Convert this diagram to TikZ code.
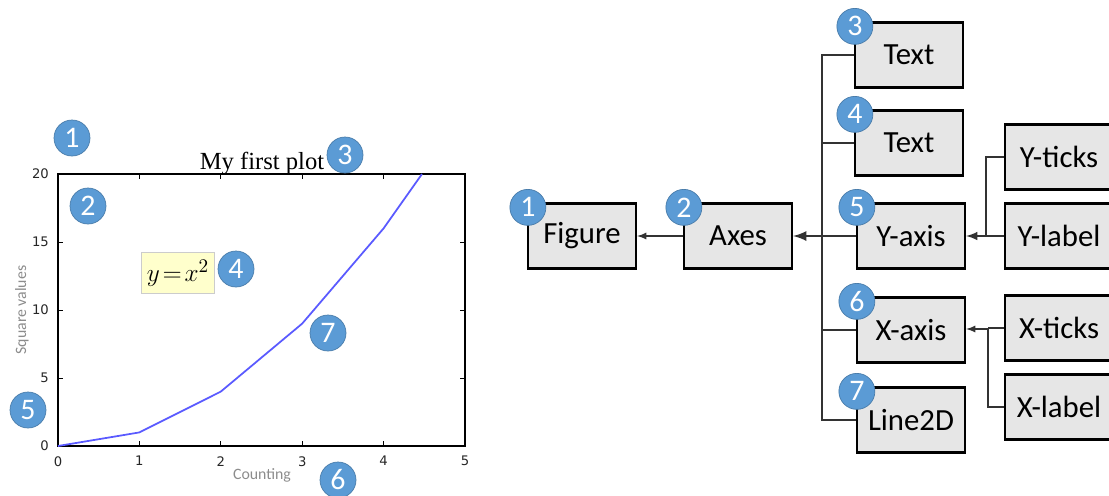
\documentclass[tikz,border=0pt]{standalone}
\usepackage{fontspec}
\newfontfamily\carlito{Carlito}
\newfontfamily\verafont{DejaVu Sans}
\newfontfamily\timesfont{Liberation Serif}
\definecolor{badgeblue}{HTML}{5B9BD5}
\definecolor{boxgray}{HTML}{E6E6E6}
\definecolor{plotblue}{HTML}{5A5AFF}
\definecolor{notebg}{HTML}{FFFFCC}

\tikzset{
  obj/.style={draw, line width=1.3pt, fill=boxgray, minimum width=2.16cm,
    minimum height=1.3cm, inner sep=0pt, font=\carlito\fontsize{17.5}{19}\selectfont},
  badge/.style={circle, fill=badgeblue, draw=badgeblue!80!black, line width=0.4pt,
    text=white, minimum size=0.72cm, inner sep=0pt, font=\carlito\fontsize{17}{18}\selectfont},
  link/.style={line width=0.8pt, draw=black!80},
  ticklab/.style={font=\verafont\fontsize{7.5}{8}\selectfont, text=black!85},
  axlab/.style={font=\carlito\fontsize{9}{10}\selectfont, text=black!45},
}

\begin{document}
\begin{tikzpicture}[x=0.02cm,y=-0.02cm]
\useasboundingbox (0,0) rectangle (1109,495);

% Left: the plot itself
\draw[line width=0.8pt] (58,174) rectangle (465,446);

% ticks on all four sides, x then y
\foreach \i in {1,...,4} {
  \draw[line width=0.5pt] (58+81.4*\i,446) -- ++(0,-5);
  \draw[line width=0.5pt] (58+81.4*\i,174) -- ++(0,5);
}
\foreach \i in {1,...,3} {
  \draw[line width=0.5pt] (58,446-68*\i) -- ++(5,0);
  \draw[line width=0.5pt] (465,446-68*\i) -- ++(-5,0);
}

% tick labels
\foreach \i in {0,...,5}
  \node[ticklab, anchor=north] (xt\i) at (58+81.4*\i,450) {\i};
\foreach \v [count=\i from 0] in {0,5,10,15,20}
  \node[ticklab, anchor=east] (yt\i) at (55,446-68*\i) {\v};

% axis labels and title
\node[axlab] (xlabtxt) at (262,475) {Counting};
\node[axlab, rotate=90] (ylabtxt) at (22,310) {Square values};
\node[font=\timesfont\fontsize{14}{16}\selectfont, anchor=base] (title) at (262,169) {My first plot};

% the annotation box
\node[fill=notebg, draw=black!20, line width=0.4pt, inner xsep=3pt, inner ysep=4pt,
  font=\fontsize{15}{16}\selectfont] (note) at (178,273) {$y\!=\!x^{2}$};

% the curve y = x^2
\begin{scope}[shift={(58,446)}, x=1.628cm, y=0.272cm]
  \draw[plotblue, line width=1pt, line join=round]
    (0,0) -- (1,1) -- (2,4) -- (3,9) -- (4,16) -- (4.472,20);
\end{scope}

% numbered markers on the plot
\node[badge] (lb1) at (72,138) {1};
\node[badge] (lb2) at (88,206) {2};
\node[badge] (lb3) at (345,155) {3};
\node[badge] (lb4) at (236,269) {4};
\node[badge] (lb5) at (28,410) {5};
\node[badge] (lb6) at (338,480) {6};
\node[badge] (lb7) at (328,333) {7};

% Right: object tree
\node[obj] (fig) at (582,236) {Figure};
\node[obj] (axes) at (738,236) {Axes};
\node[obj] (txta) at (909,55) {Text};
\node[obj] (txtb) at (909,143) {Text};
\node[obj] (yaxis) at (911,236) {Y-axis};
\node[obj] (xaxis) at (911,330) {X-axis};
\node[obj] (line) at (911,420) {Line2D};
\node[obj] (yticks) at (1059,157) {Y-ticks};
\node[obj] (ylabel) at (1059,236) {Y-label};
\node[obj] (xticks) at (1059,328) {X-ticks};
\node[obj] (xlabel) at (1059,407) {X-label};

% junction points
\coordinate (trunk) at (822,236);
\coordinate (yjoin) at (986,236);
\coordinate (xjoin) at (988,329);

% connectors
\draw[link] (txta.west) -| (trunk) |- (line.west);
\draw[link] (txtb.west) -- (txtb.west -| trunk);
\draw[link] (yaxis.west) -- (trunk);
\draw[link] (xaxis.west) -- (xaxis.west -| trunk);
\draw[link, line width=1.6pt, -latex] (trunk) -- (axes.east);
\draw[link, -latex] (axes.west) -- (fig.east);

\draw[link] (yticks.west) -| (yjoin);
\draw[link] (ylabel.west) -- (yjoin);
\draw[link, line width=1.2pt, -latex] (yjoin) -- (yaxis.east);

\draw[link] (xlabel.west) -| (xjoin);
\draw[link] (xticks.west) -- (xticks.west -| xjoin);
\draw[link, -latex] (xjoin) -- (xjoin -| xaxis.east);

% numbered markers on the tree
\node[badge] (rb1) at ([shift={(1,5)}]fig.north west) {1};
\node[badge] (rb2) at ([shift={(1,5)}]axes.north west) {2};
\node[badge] (rb3) at ([shift={(1,5)}]txta.north west) {3};
\node[badge] (rb4) at ([shift={(1,5)}]txtb.north west) {4};
\node[badge] (rb5) at ([shift={(1,5)}]yaxis.north west) {5};
\node[badge] (rb6) at ([shift={(1,5)}]xaxis.north west) {6};
\node[badge] (rb7) at ([shift={(1,5)}]line.north west) {7};

\end{tikzpicture}
\end{document}
